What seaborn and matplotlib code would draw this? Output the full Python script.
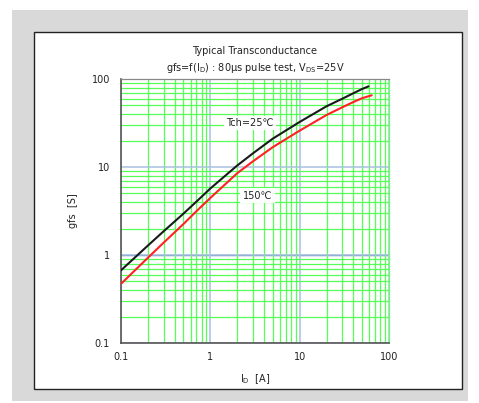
import matplotlib
matplotlib.use("Agg")
import matplotlib.pyplot as plt
from matplotlib.patches import Rectangle
from matplotlib.ticker import FixedLocator, LogLocator, NullFormatter
import seaborn as sns
import pandas as pd

# Transconductance curves, gfs [S] versus drain current ID [A]
id_25 = [0.1, 0.2, 0.3, 0.5, 0.7, 1, 2, 3, 5, 10, 20, 30, 40, 50, 59]
gfs_25 = [0.67, 1.28, 1.86, 2.95, 4.05, 5.7, 10.4, 14.3, 21, 32.5, 49, 59.7, 69, 77, 82.5]
id_150 = [0.1, 0.2, 0.3, 0.5, 0.7, 1, 2, 3, 5, 10, 20, 30, 40, 50, 64]
gfs_150 = [0.47, 0.93, 1.38, 2.25, 3.15, 4.45, 8.5, 11.6, 16.8, 25.9, 39, 47.7, 54.8, 60.5, 65.3]
series_names = ["Tch=25℃", "150℃"]
tick_values = [0.1, 1, 10, 100]
tick_labels = ["0.1", "1", "10", "100"]

df = pd.concat([
    pd.DataFrame({"ID": id_25, "gfs": gfs_25, "T": series_names[0]}),
    pd.DataFrame({"ID": id_150, "gfs": gfs_150, "T": series_names[1]}),
])

sns.set_style("white")
plt.rcParams["font.family"] = ["DejaVu Sans"]

W, H = 479, 403
fig = plt.figure(figsize=(W / 100, H / 100), dpi=100)
fig.patch.set_facecolor("white")

# Grey frame with a white bordered panel
fig.patches.append(Rectangle((12 / W, 1 - 401 / H), (468 - 12) / W, (401 - 10) / H,
                             transform=fig.transFigure, facecolor="#d9d9d9",
                             edgecolor="none", zorder=-3))
fig.patches.append(Rectangle((34 / W, 1 - 389 / H), (462 - 34) / W, (389 - 32) / H,
                             transform=fig.transFigure, facecolor="white",
                             edgecolor="#222222", linewidth=1.0, zorder=-2))

ax = fig.add_axes([121 / W, 1 - 343 / H, 268 / W, 264 / H])
ax.set_facecolor("none")
ax.set_xscale("log")
ax.set_yscale("log")
ax.set_xlim(0.1, 100)
ax.set_ylim(0.1, 100)

# Grid: green minor lines, blue decade lines
ax.xaxis.set_minor_locator(LogLocator(base=10, subs=range(2, 10)))
ax.yaxis.set_minor_locator(LogLocator(base=10, subs=range(2, 10)))
ax.xaxis.set_minor_formatter(NullFormatter())
ax.yaxis.set_minor_formatter(NullFormatter())
ax.grid(True, which="minor", color="#55ff55", linewidth=0.9, zorder=0)
ax.grid(True, which="major", color="#a9c1e0", linewidth=1.1, zorder=0)
ax.axhline(1, color="#4f7fb5", linewidth=1.0, zorder=0.5)

sns.lineplot(data=df, x="ID", y="gfs", hue="T", palette=["#1a1a1a", "#ff2222"],
             linewidth=1.5, legend=False, ax=ax, zorder=3)

ax.xaxis.set_major_locator(FixedLocator(tick_values))
ax.yaxis.set_major_locator(FixedLocator(tick_values))
ax.set_xticklabels(tick_labels)
ax.set_yticklabels(tick_labels)
ax.tick_params(axis="both", which="both", length=0, labelsize=7, colors="#222222")
ax.tick_params(axis="x", pad=6.5)
ax.tick_params(axis="y", pad=8)

for side in ["left", "bottom"]:
    ax.spines[side].set_color("#555555")
    ax.spines[side].set_linewidth(1.2)
ax.spines["top"].set_color("#888888")
ax.spines["top"].set_linewidth(0.9)
ax.spines["right"].set_color("#66ff66")
ax.spines["right"].set_linewidth(0.9)

ax.set_xlabel(r"I$_\mathregular{D}$  [A]", fontsize=7, labelpad=7, color="#222222")
ax.set_ylabel("gfs  [S]", fontsize=7, labelpad=10, color="#222222")

ax.text(0.5, 1 + 28 / 264, "Typical Transconductance", transform=ax.transAxes,
        ha="center", va="center", fontsize=7, color="#222222")
ax.text(0.5, 1 + 11 / 264, r"gfs=f(I$_\mathregular{D}$) : 80μs pulse test, V$_\mathregular{DS}$=25V",
        transform=ax.transAxes, ha="center", va="center", fontsize=7, color="#222222")

box = dict(boxstyle="square,pad=0.25", facecolor="white", edgecolor="none")
ax.text(2.78, 31.6, series_names[0], ha="center", va="center", fontsize=7,
        color="#222222", bbox=box, zorder=4)
ax.text(3.37, 4.74, series_names[1], ha="center", va="center", fontsize=7,
        color="#222222", bbox=box, zorder=4)

fig.savefig("out.png", dpi=100)
